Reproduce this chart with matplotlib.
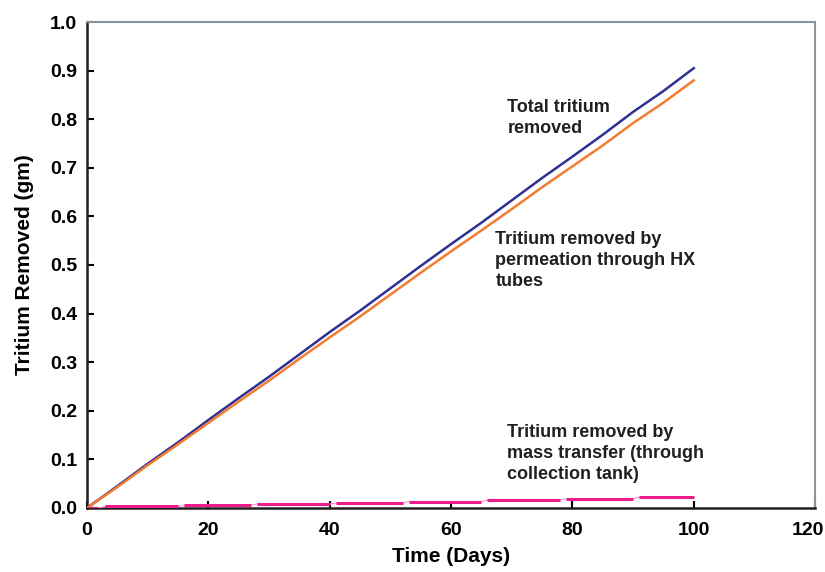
import matplotlib
matplotlib.use("Agg")
import matplotlib.pyplot as plt
import matplotlib.transforms as mtransforms

plt.rcParams['font.family'] = ['Liberation Sans', 'DejaVu Sans']
plt.rcParams['font.weight'] = 'bold'

# days
days = [0, 5, 10, 15, 20, 25, 30, 35, 40, 45, 50, 55, 60, 65, 70, 75, 80, 85, 90, 95, 100]
total_removed = [0.0, 0.045, 0.091, 0.135, 0.181, 0.226, 0.270, 0.316, 0.362, 0.406, 0.452, 0.498,
                 0.543, 0.587, 0.633, 0.679, 0.723, 0.768, 0.815, 0.858, 0.905]
permeation = [0.0, 0.043, 0.088, 0.131, 0.175, 0.219, 0.262, 0.307, 0.351, 0.394, 0.439, 0.484,
              0.528, 0.571, 0.615, 0.660, 0.703, 0.746, 0.792, 0.834, 0.880]

# mass transfer steps: start day, end day, value
mt_start = [0, 3, 16, 28, 41, 53, 66, 79, 91]
mt_end = [1.8, 15, 27, 40, 52, 65, 78, 90, 100]
mt_value = [0.0, 0.003, 0.006, 0.008, 0.010, 0.013, 0.016, 0.019, 0.022]

fig = plt.figure(figsize=(8.25, 5.72), dpi=100)
ax = fig.add_axes([0.1055, 0.112, 0.8825, 0.8495])

ax.plot(days, total_removed, color='#2e3192', lw=1.8, zorder=3)
ax.plot(days, permeation, color='#f47c30', lw=1.8, zorder=3)

# thin connector through the mass transfer steps, then the thick steps
xs, ys = [], []
for s, e, v in zip(mt_start, mt_end, mt_value):
    xs += [s, e]
    ys += [v, v]
ax.plot(xs, ys, color='#f59ac8', lw=0.8, zorder=3)
ax.hlines(mt_value, mt_start, mt_end, color='#ec1c8c', lw=2.2, zorder=4)

ax.set_xlim(0, 120)
ax.set_ylim(0, 1.0)
ax.set_xticks(range(0, 121, 20))
ax.set_yticks([i / 10 for i in range(11)])
ax.set_yticklabels(['%.1f' % (i / 10) for i in range(11)])
ax.tick_params(direction='in', length=5, width=1.5, labelsize=14)
ax.tick_params(axis='x', pad=10)
ax.tick_params(axis='y', pad=7)

# keep the last x label inside the figure
last = ax.get_xticklabels()[-1]
last.set_transform(last.get_transform() + mtransforms.ScaledTranslation(-7 / 100, 0, fig.dpi_scale_trans))

for side in ['left', 'bottom']:
    ax.spines[side].set_color('#231f20')
    ax.spines[side].set_linewidth(1.8)
for side in ['top', 'right']:
    ax.spines[side].set_color('#8a939b')
    ax.spines[side].set_linewidth(1.5)

ax.set_xlabel('Time (Days)', fontsize=15, fontweight='bold', labelpad=6)
ax.set_ylabel('Tritium Removed (gm)', fontsize=15, fontweight='bold', labelpad=12)

txt = dict(fontsize=13, fontweight='bold', color='#231f20', va='top', ha='left', linespacing=1.3)
ax.text(69.3, 0.842, 'Total tritium\nremoved', **txt)
ax.text(67.3, 0.570, 'Tritium removed by\npermeation through HX\ntubes', **txt)
ax.text(69.3, 0.173, 'Tritium removed by\nmass transfer (through\ncollection tank)', **txt)

fig.savefig('out.png', dpi=100)
